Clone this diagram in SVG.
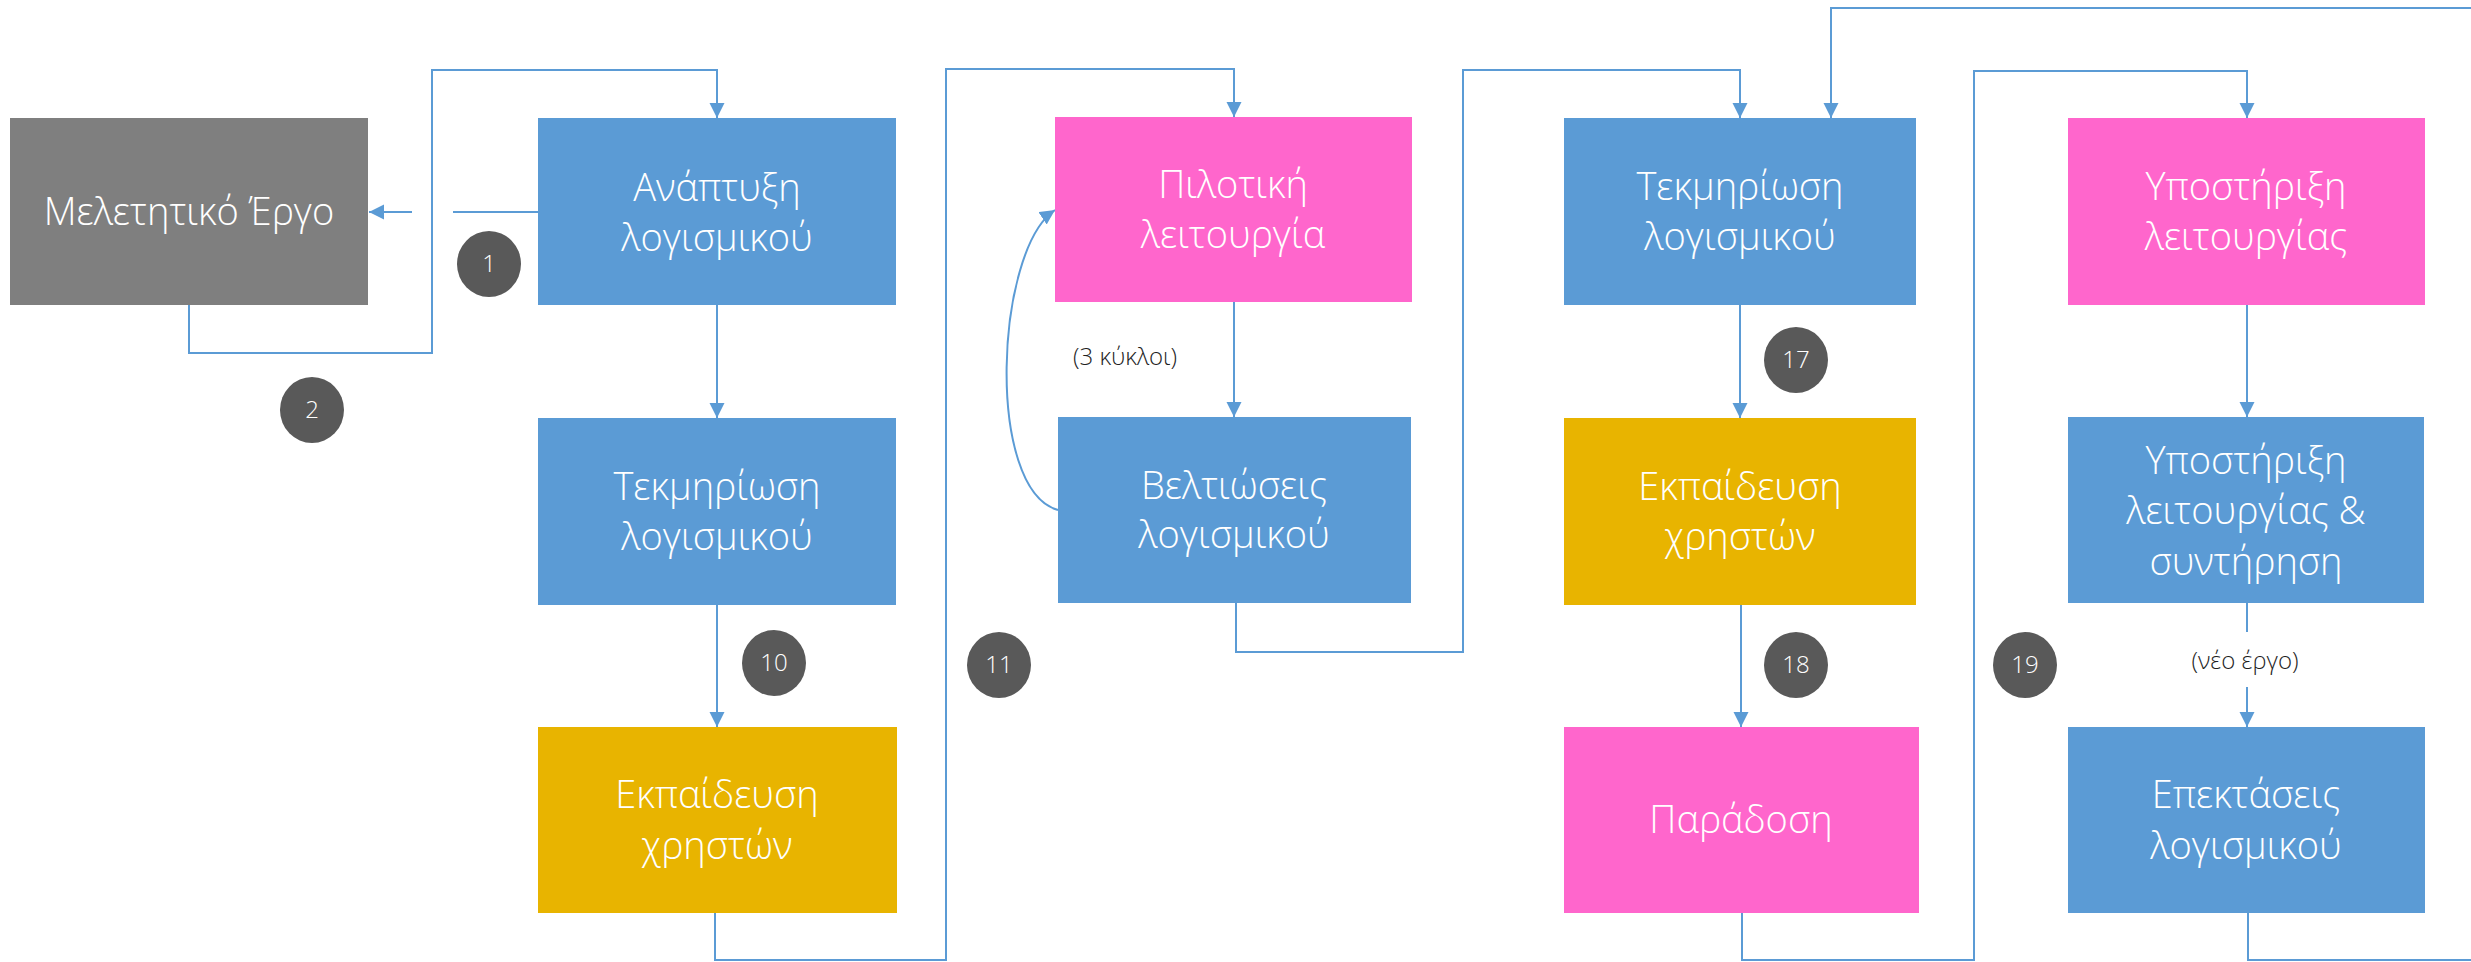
<svg xmlns="http://www.w3.org/2000/svg" width="2471" height="962" viewBox="0 0 2471 962">
<style>
.blue{fill:#5B9BD5}
.gray{fill:#7F7F7F}
.pink{fill:#FF66CC}
.gold{fill:#E8B400}
.lbl{font-family:"Open Sans","Noto Sans","Liberation Sans",sans-serif;font-weight:300;font-size:38px;fill:#FFFFFF;text-anchor:middle}
.badge{fill:#595959}
.num{font-family:"Open Sans","Noto Sans","Liberation Sans",sans-serif;font-weight:300;font-size:24px;fill:#FFFFFF;text-anchor:middle}
.note{font-family:"Open Sans","Noto Sans","Liberation Sans",sans-serif;font-weight:300;font-size:24px;fill:#1F1F1F;text-anchor:middle}
.conn{fill:none;stroke:#5B9BD5;stroke-width:2}
</style>
<defs>
<marker id="arr" markerUnits="userSpaceOnUse" markerWidth="16" markerHeight="16" refX="15" refY="7.5" orient="auto">
<path d="M0,0 L15,7.5 L0,15 z" fill="#5B9BD5"/>
</marker>
</defs>
<rect width="2471" height="962" fill="#FFFFFF"/>

<g id="connectors">
<path class="conn" d="M538,212 H453"/>
<path class="conn" d="M412,212 H369" marker-end="url(#arr)"/>
<path class="conn" d="M189,305 V353 H432 V70 H717 V118" marker-end="url(#arr)"/>
<path class="conn" d="M717,305 V418" marker-end="url(#arr)"/>
<path class="conn" d="M717,605 V727" marker-end="url(#arr)"/>
<path class="conn" d="M715,913 V960 H946 V69 H1234 V117" marker-end="url(#arr)"/>
<path class="conn" d="M1234,302 V417" marker-end="url(#arr)"/>
<path class="conn" d="M1058,510 C985,490 995,250 1055,210" marker-end="url(#arr)"/>
<path class="conn" d="M1236,603 V652 H1463 V70 H1740 V118" marker-end="url(#arr)"/>
<path class="conn" d="M1740,305 V418" marker-end="url(#arr)"/>
<path class="conn" d="M1741,605 V727" marker-end="url(#arr)"/>
<path class="conn" d="M1742,913 V960 H1974 V71 H2247 V118" marker-end="url(#arr)"/>
<path class="conn" d="M2247,305 V417" marker-end="url(#arr)"/>
<path class="conn" d="M2247,603 V632"/>
<path class="conn" d="M2247,687 V727" marker-end="url(#arr)"/>
<path class="conn" d="M2248,913 V960 H2520 V8 H1831 V118" marker-end="url(#arr)"/>
<text class="note" x="1125" y="365">(3 κύκλοι)</text>
<text class="note" x="2245" y="669">(νέο έργο)</text>
</g>

<g id="n-meletitiko">
<rect class="gray" x="10" y="118" width="358" height="187"/>
<text class="lbl" x="189" y="225">Μελετητικό Έργο</text>
</g>
<g id="n-anaptyxi">
<rect class="blue" x="538" y="118" width="358" height="187"/>
<text class="lbl" x="717" y="201">Ανάπτυξη</text>
<text class="lbl" x="717" y="251">λογισμικού</text>
</g>
<g id="n-tekmiriosi1">
<rect class="blue" x="538" y="418" width="358" height="187"/>
<text class="lbl" x="717" y="500">Τεκμηρίωση</text>
<text class="lbl" x="717" y="550">λογισμικού</text>
</g>
<g id="n-ekpaideusi1">
<rect class="gold" x="538" y="727" width="359" height="186"/>
<text class="lbl" x="717" y="808">Εκπαίδευση</text>
<text class="lbl" x="717" y="859">χρηστών</text>
</g>
<g id="n-pilotiki">
<rect class="pink" x="1055" y="117" width="357" height="185"/>
<text class="lbl" x="1233" y="198">Πιλοτική</text>
<text class="lbl" x="1233" y="248">λειτουργία</text>
</g>
<g id="n-veltioseis">
<rect class="blue" x="1058" y="417" width="353" height="186"/>
<text class="lbl" x="1234" y="499">Βελτιώσεις</text>
<text class="lbl" x="1234" y="548">λογισμικού</text>
</g>
<g id="n-tekmiriosi2">
<rect class="blue" x="1564" y="118" width="352" height="187"/>
<text class="lbl" x="1740" y="200">Τεκμηρίωση</text>
<text class="lbl" x="1740" y="250">λογισμικού</text>
</g>
<g id="n-ekpaideusi2">
<rect class="gold" x="1564" y="418" width="352" height="187"/>
<text class="lbl" x="1740" y="500">Εκπαίδευση</text>
<text class="lbl" x="1740" y="550">χρηστών</text>
</g>
<g id="n-paradosi">
<rect class="pink" x="1564" y="727" width="355" height="186"/>
<text class="lbl" x="1741" y="833">Παράδοση</text>
</g>
<g id="n-ypostiriksi">
<rect class="pink" x="2068" y="118" width="357" height="187"/>
<text class="lbl" x="2246" y="200">Υποστήριξη</text>
<text class="lbl" x="2246" y="250">λειτουργίας</text>
</g>
<g id="n-ypostiriksi-syntirisi">
<rect class="blue" x="2068" y="417" width="356" height="186"/>
<text class="lbl" x="2246" y="474">Υποστήριξη</text>
<text class="lbl" x="2246" y="524">λειτουργίας &amp;</text>
<text class="lbl" x="2246" y="575">συντήρηση</text>
</g>
<g id="n-epektaseis">
<rect class="blue" x="2068" y="727" width="357" height="186"/>
<text class="lbl" x="2246" y="808">Επεκτάσεις</text>
<text class="lbl" x="2246" y="859">λογισμικού</text>
</g>

<g id="b1"><ellipse class="badge" cx="489" cy="264" rx="32" ry="33"/><text class="num" x="489" y="272">1</text></g>
<g id="b2"><ellipse class="badge" cx="312" cy="410" rx="32" ry="33"/><text class="num" x="312" y="418">2</text></g>
<g id="b10"><ellipse class="badge" cx="774" cy="663" rx="32" ry="33"/><text class="num" x="774" y="671">10</text></g>
<g id="b11"><ellipse class="badge" cx="999" cy="665" rx="32" ry="33"/><text class="num" x="999" y="673">11</text></g>
<g id="b17"><ellipse class="badge" cx="1796" cy="360" rx="32" ry="33"/><text class="num" x="1796" y="368">17</text></g>
<g id="b18"><ellipse class="badge" cx="1796" cy="665" rx="32" ry="33"/><text class="num" x="1796" y="673">18</text></g>
<g id="b19"><ellipse class="badge" cx="2025" cy="665" rx="32" ry="33"/><text class="num" x="2025" y="673">19</text></g>
</svg>
